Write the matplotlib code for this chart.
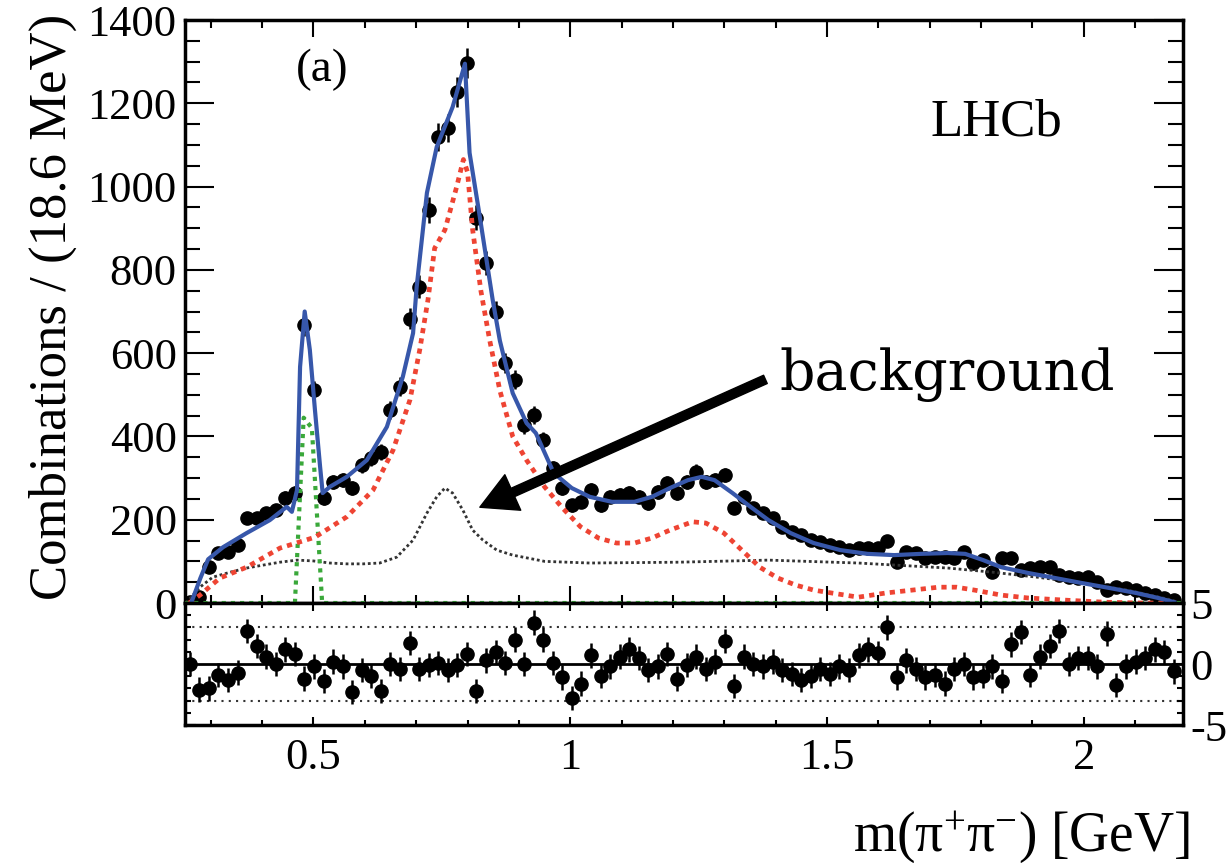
import numpy as np
import matplotlib
matplotlib.use('Agg')
import matplotlib.pyplot as plt
from matplotlib.ticker import MultipleLocator, FormatStrFormatter

plt.rcParams['font.family'] = ['Liberation Serif', 'DejaVu Serif']
plt.rcParams['mathtext.fontset'] = 'custom'
plt.rcParams['mathtext.rm'] = 'Liberation Serif'
plt.rcParams['mathtext.it'] = 'Liberation Serif:italic'
plt.rcParams['axes.unicode_minus'] = False

# binning of the m(pi+ pi-) histogram
mass_lo = 0.25
bin_width = 0.0186

# candidates per bin
counts = [2, 14, 86, 120, 122, 139, 204, 204, 216, 223,
          252, 264, 668, 511, 252, 291, 295, 276, 331, 348,
          363, 463, 519, 683, 759, 944, 1119, 1141, 1227, 1297,
          925, 816, 699, 576, 536, 427, 451, 391, 324, 276,
          235, 243, 271, 235, 255, 259, 264, 255, 240, 267,
          288, 264, 291, 315, 291, 295, 307, 228, 255, 228,
          216, 204, 183, 171, 163, 151, 146, 139, 135, 127,
          132, 132, 132, 149, 98, 122, 120, 108, 110, 110,
          108, 122, 96, 103, 74, 108, 108, 79, 84, 86,
          86, 67, 62, 60, 62, 50, 31, 38, 36, 31,
          24, 19, 12, 7]

# fit pulls per bin
pulls = [0, -2.1, -2.0, -0.9, -1.3, -0.7, 2.7, 1.5, 0.6, 0,
         1.2, 0.8, -1.2, -0.2, -1.4, 0.2, -0.2, -2.3, -0.5, -1.0,
         -2.2, 0, -0.4, 1.7, -0.4, -0.1, 0.1, -0.5, -0.1, 0.8,
         -2.2, 0.3, 1.0, 0.1, 2.0, 0, 3.4, 2.0, 0.1, -1.1,
         -2.8, -1.6, 0.7, -1.0, -0.2, 0.6, 1.2, 0.5, -0.5, -0.2,
         0.8, -1.2, -0.1, 0.6, -0.4, 0.2, 1.9, -1.8, 0.6, 0,
         -0.2, 0.2, -0.5, -0.8, -1.3, -1.0, -0.4, -0.8, -0.2, -0.5,
         0.7, 1.2, 0.9, 3.0, -1.1, 0.3, -0.4, -1.1, -0.9, -1.6,
         -0.4, 0, -1.1, -1.0, -0.2, -1.4, 1.6, 2.6, -0.9, 0.6,
         1.5, 2.7, 0, 0.5, 0.5, -0.2, 2.5, -1.7, -0.2, 0.2,
         0.5, 1.2, 1.0, -0.6]

# total fit
fit_x = [0.262, 0.280, 0.295, 0.324, 0.370, 0.415, 0.448, 0.458, 0.468, 0.474,
         0.483, 0.493, 0.503, 0.513, 0.518, 0.532, 0.565, 0.604, 0.643, 0.674,
         0.694, 0.701, 0.721, 0.740, 0.771, 0.795, 0.804, 0.824, 0.849, 0.863,
         0.888, 0.915, 0.933, 0.968, 1.003, 1.038, 1.081, 1.125, 1.159, 1.194,
         1.229, 1.256, 1.281, 1.316, 1.351, 1.386, 1.429, 1.474, 1.526, 1.579,
         1.631, 1.682, 1.735, 1.769, 1.804, 1.839, 1.892, 1.944, 1.996, 2.050,
         2.102, 2.145, 2.176]
fit_y = [0, 60, 105, 134, 168, 199, 231, 219, 271, 567,
         700, 608, 463, 327, 264, 279, 303, 343, 423, 543,
         648, 759, 985, 1095, 1191, 1295, 1081, 927, 728, 630,
         504, 432, 408, 312, 276, 255, 243, 243, 255, 276,
         295, 303, 295, 264, 231, 199, 168, 144, 127, 118,
         115, 118, 120, 118, 103, 86, 72, 60, 48, 36,
         24, 12, 2]

# rho-like resonant component
rho_x = [0.258, 0.279, 0.318, 0.370, 0.435, 0.503, 0.565, 0.616, 0.655, 0.688,
         0.707, 0.723, 0.736, 0.756, 0.779, 0.792, 0.800, 0.810, 0.826, 0.843,
         0.863, 0.888, 0.915, 0.950, 0.985, 1.020, 1.055, 1.090, 1.125, 1.159,
         1.194, 1.238, 1.264, 1.299, 1.334, 1.369, 1.404, 1.439, 1.474, 1.509,
         1.561, 1.614, 1.666, 1.717, 1.752, 1.787, 1.839, 1.892, 1.962, 2.039,
         2.110, 2.185]
rho_y = [0, 19, 60, 86, 132, 158, 207, 271, 367, 488,
         608, 728, 852, 896, 1000, 1065, 1035, 896, 750, 632,
         510, 400, 343, 279, 228, 183, 156, 144, 144, 156,
         175, 195, 192, 168, 127, 86, 60, 43, 31, 24,
         14, 24, 31, 38, 38, 31, 19, 12, 7, 2,
         0, 0]

# combinatorial background
bkg_x = [0.252, 0.279, 0.304, 0.338, 0.370, 0.402, 0.435, 0.468, 0.500, 0.532,
         0.565, 0.597, 0.629, 0.662, 0.694, 0.721, 0.740, 0.756, 0.771, 0.791,
         0.810, 0.830, 0.857, 0.888, 0.950, 1.038, 1.211, 1.386, 1.561, 1.735,
         1.822, 1.909, 1.996, 2.085, 2.172, 2.185]
bkg_y = [0, 38, 62, 74, 84, 91, 98, 103, 101, 96,
         94, 94, 96, 110, 151, 216, 255, 276, 264, 223,
         175, 151, 127, 115, 100, 96, 98, 103, 96, 84,
         74, 62, 48, 31, 7, 0]

# K0s peak
ks_x = [0.25, 0.464, 0.481, 0.497, 0.517, 2.19]
ks_y = [0, 0, 445, 420, 0, 0]

mass = mass_lo + bin_width * (np.arange(len(counts)) + 0.5)
counts = np.array(counts, dtype=float)
pulls = np.array(pulls, dtype=float)

fig = plt.figure(figsize=(12.31, 8.63), dpi=100)
ax = fig.add_axes([0.1503, 0.30127, 0.8107, 0.67555])
rax = fig.add_axes([0.1503, 0.15990, 0.8107, 0.14137], sharex=ax)

ax.errorbar(mass, counts, yerr=np.sqrt(counts), fmt='o', color='black',
            ms=9.5, elinewidth=1.8, capsize=0, zorder=2)
ax.plot(bkg_x, bkg_y, color='#333333', lw=2.0, dashes=(1, 1), zorder=3)
ax.plot(ks_x, ks_y, color='#3aa83a', lw=3, dashes=(1, 1.2), zorder=3)
ax.plot(rho_x, rho_y, color='#ee4433', lw=3.4, dashes=(1.1, 1.1), zorder=3)
ax.plot(fit_x, fit_y, color='#3757aa', lw=3, zorder=4)

ax.set_xlim(0.25, 2.193)
ax.set_ylim(0, 1400)
ax.xaxis.set_major_locator(MultipleLocator(0.5))
ax.xaxis.set_minor_locator(MultipleLocator(0.1))
ax.xaxis.set_major_formatter(FormatStrFormatter('%g'))
ax.yaxis.set_major_locator(MultipleLocator(200))
ax.yaxis.set_minor_locator(MultipleLocator(50))
ax.tick_params(which='both', direction='in', top=True, right=True,
               width=1.5, labelbottom=False, labelsize=32, pad=6)
ax.tick_params(axis='y', which='major', length=21)
ax.tick_params(axis='y', which='minor', length=10.5)
ax.tick_params(axis='x', which='major', length=12)
ax.tick_params(axis='x', which='minor', length=6)

ax.set_ylabel('Combinations / (18.6 MeV)', fontsize=38, loc='top')
ax.yaxis.set_label_coords(-0.108, 1.01)

ax.text(0.137, 0.914, '(a)', transform=ax.transAxes, fontsize=34,
        ha='center', va='center')
ax.text(0.813, 0.825, 'LHCb', transform=ax.transAxes, fontsize=38,
        ha='center', va='center')

ax.annotate('', xy=(0.824, 230), xytext=(1.38, 537),
            arrowprops=dict(facecolor='black', edgecolor='black', width=6.5,
                            headwidth=28, headlength=26, shrink=0),
            zorder=6)
ax.text(1.408, 512, 'background', fontsize=40, family='DejaVu Serif',
        va='baseline', ha='left')

# pull panel
rax.axhline(0, color='black', lw=2, zorder=1)
for lvl in (3, -3):
    rax.axhline(lvl, color='#333333', lw=1.5, dashes=(1, 2.5), zorder=1)
rax.errorbar(mass, pulls, yerr=1, fmt='o', color='black', ms=9.5,
             elinewidth=1.8, capsize=0, zorder=2)
rax.set_ylim(-5, 5)
rax.yaxis.set_major_locator(MultipleLocator(5))
rax.yaxis.set_minor_locator(MultipleLocator(1))
rax.tick_params(which='both', direction='in', top=True, right=True,
                left=True, labelleft=False, labelright=True, width=1.5,
                labelsize=32)
rax.tick_params(axis='y', which='major', length=8, pad=5)
rax.tick_params(axis='y', which='minor', length=4.5)
rax.tick_params(axis='x', which='major', length=6, pad=9)
rax.tick_params(axis='x', which='minor', length=3.5)

rax.set_xlabel('m(π$^{+}$π$^{-}$) [GeV]', fontsize=40, loc='right')
rax.xaxis.set_label_coords(1.007, -0.68)

for a in (ax, rax):
    for s in a.spines.values():
        s.set_linewidth(2.5)

fig.savefig('out.png', dpi=100)
